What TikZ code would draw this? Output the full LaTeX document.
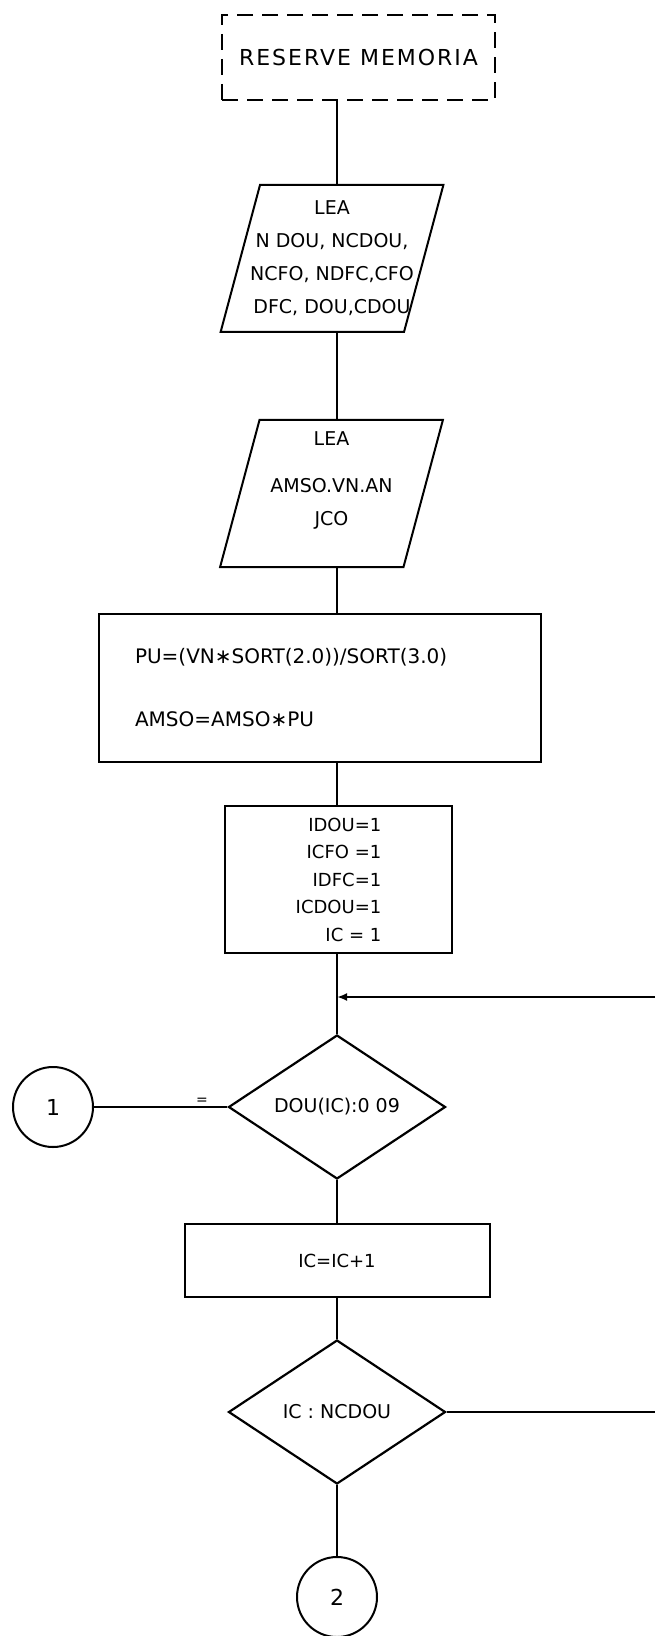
\documentclass[tikz,border=0pt]{standalone}
\usepackage{fontspec}
\setmainfont{DejaVu Sans}
\usetikzlibrary{shapes.geometric, arrows.meta}

\begin{document}
\begin{tikzpicture}[x=0.5pt, y=-0.5pt,
    flowLine/.style={draw=black, line width=1pt},
    memoryBox/.style={draw, line width=1pt, dash pattern=on 8pt off 4.5pt,
        minimum width=136.5pt, minimum height=42.5pt, inner sep=0pt},
    readBox/.style={draw, line width=1pt, trapezium, trapezium left angle=75,
        trapezium right angle=105, inner sep=0pt},
    readText/.style={align=center, inner sep=0pt, font=\fontsize{9.5}{16.5}\selectfont},
    calcBox/.style={draw, line width=1pt, rectangle, inner sep=0pt},
    testBox/.style={draw, line width=1.1pt, diamond, minimum width=108.5pt,
        minimum height=72pt, inner sep=0pt, font=\fontsize{9.5}{11}\selectfont},
    linkCircle/.style={draw, line width=1pt, circle, minimum size=40pt,
        inner sep=0pt, font=\fontsize{11}{13}\selectfont}
]
    % Page size and position of the main flow line
    \useasboundingbox (0,0) rectangle (669,1636);
    \def\spineX{337} % x of the vertical flow line
    \def\loopX{655}  % x where the return lines stop
    \def\readBody{\hbox to 72pt{\vrule width 0pt height 73.5pt\hfil}} % inner box of the input shapes
    \coordinate (spine) at (\spineX,0);

    % Memory box
    \node[memoryBox] (resBox) at (358.5,57.5)
        {\addfontfeatures{LetterSpace=9}\fontsize{11}{13}\selectfont\raisebox{-3pt}{RESERVE MEMORIA}};

    % Input boxes
    \node[readBox] (leaFirst) at (332,258.5) {\readBody};
    \node[readText] (leaFirstText) at (leaFirst) {LEA\\N DOU, NCDOU,\\NCFO, NDFC,CFO\\DFC, DOU,CDOU};
    \node[readBox] (leaSecond) at (331.5,493.5) {\readBody};
    \node[readText] (leaSecondText) at (331.5,480) {LEA\\[7pt]AMSO.VN.AN\\JCO};

    % Calculation boxes
    \node[calcBox, minimum width=221pt, minimum height=74pt, text width=185pt,
          inner xsep=18pt, align=left, font=\fontsize{10}{16.5}\selectfont]
        (puBox) at (320,688) {PU=(VN∗SORT(2.0))/SORT(3.0)\\[15pt]AMSO=AMSO∗PU};
    \node[calcBox, minimum width=113.5pt, minimum height=73.5pt, align=right,
          font=\fontsize{9}{13.75}\selectfont]
        (initBox) at (338.5,879.5) {IDOU=1\\ICFO =1\\IDFC=1\\ICDOU=1\\IC = 1};

    % Loop: test, step and end test
    \coordinate (loopIn) at (\loopX,997);
    \coordinate (loopJoin) at (\spineX,997);
    \node[testBox] (douTest) at (\spineX,1107) {DOU(IC):0 09};
    \node[linkCircle] (linkOne) at (53,1107) {1};
    \node[calcBox, minimum width=152.5pt, minimum height=36.5pt,
          font=\fontsize{9}{11}\selectfont] (incBox) at (\spineX,1260.5) {IC=IC+1};
    \node[testBox] (countTest) at (\spineX,1412) {IC : NCDOU};
    \coordinate (loopOut) at (\loopX,1412);
    \node[linkCircle] (linkTwo) at (\spineX,1597) {2};

    % Connectors
    \draw[flowLine] (resBox.south -| spine) -- (leaFirst.north -| spine);
    \draw[flowLine] (leaFirst.south -| spine) -- (leaSecond.north -| spine);
    \draw[flowLine] (leaSecond.south -| spine) -- (puBox.north -| spine);
    \draw[flowLine] (puBox.south -| spine) -- (initBox.north -| spine);
    \draw[flowLine] (initBox.south -| spine) -- (douTest.north);
    \draw[flowLine, -{Latex[length=5pt, width=4pt]}] (loopIn) -- (loopJoin);
    \draw[flowLine] (linkOne) -- (douTest)
        node[pos=0.81, above=1pt, inner sep=0pt, font=\scriptsize] (eqMark) {=};
    \draw[flowLine] (douTest) -- (incBox);
    \draw[flowLine] (incBox) -- (countTest);
    \draw[flowLine] (countTest) -- (linkTwo);
    \draw[flowLine] (countTest.east) -- (loopOut);

\end{tikzpicture}
\end{document}
